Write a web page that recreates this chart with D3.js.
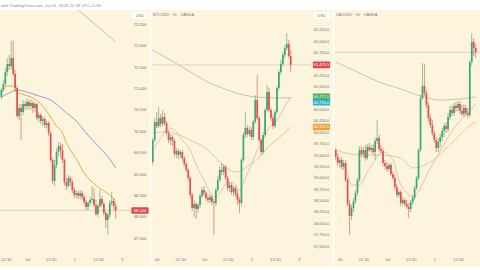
<!DOCTYPE html>
<html><head><meta charset="utf-8">
<script src="https://cdn.jsdelivr.net/npm/d3@7"></script>
<style>
html,body{margin:0;padding:0;background:#fff;}
svg{display:block;font-family:"Liberation Sans",Arial,sans-serif;}
</style></head><body>
<svg id="c" width="480" height="270"></svg>
<script>
// ---------- DATA ----------
const headerText = "with TradingView.com, Jul 01, 2026 21:33 UTC+5:30";
const titles = ["", "BTCUSD · 1h · OANDA", "XAUUSD · 1h · OANDA"];
const timeTickHours = [-24, -12, 0, 12, 24, 36, 48];
const timeTickLabels = ["30", "12:30", "Jul", "12:30", "2", "12:30", "3"];

// Panel 1 (hourly candles, first candle hour offset from Jul 1 00:00)
const p1Start = -13;
const p1Open  = [70794,70958,71098,71378,71565,71519,71706,71332,71005,70350,70537,70444,70631,70584,70678,70584,70654,70537,70631,70304,70374,70234,70280,70140,70187,69953,69322,68832,69206,69509,69650,69556,69322,68808,68715,68902,68808,68622,68505,68551,68481,68551,68458,68341,68224,68318,68388,68411,68271,68061,68248,68411,68295,68084,67921,68037,68318,68365,68248];
const p1High  = [71005,71192,71472,71706,71776,72103,72126,71425,71051,70631,70631,70724,70701,70771,70724,70748,70701,70678,70654,70444,70421,70350,70327,70234,70234,70000,69369,69322,69603,69743,69720,69696,69369,68902,68972,68949,68855,68692,68622,68598,68622,68598,68505,68388,68365,68458,68715,68668,68388,68295,68622,68481,68341,68131,68084,68388,68575,68435,68318];
const p1Low   = [70748,70911,71051,71285,71425,71425,71285,70911,70304,70257,69790,70374,70491,70491,70514,70491,70421,70444,70257,70210,70164,70117,70070,70047,69883,69276,68762,68715,69136,69416,69369,69252,68738,68622,68668,68715,68551,68435,68435,68411,68411,68388,68271,68154,68154,68248,68318,68224,68014,67991,68201,68224,68037,67734,67570,67967,68248,68154,67944];
const p1Close = [70958,71098,71378,71565,71519,71706,71332,71005,70350,70537,70444,70631,70584,70678,70584,70654,70537,70631,70304,70374,70234,70280,70140,70187,69953,69322,68832,69206,69509,69650,69556,69322,68808,68715,68902,68808,68622,68505,68551,68481,68551,68458,68341,68224,68318,68388,68411,68271,68061,68248,68411,68295,68084,67921,68037,68318,68365,68248,68144];
const p1MaFastHours = [-13,-10,-7,-5,-1,3,8,12,15,18,20,23,26,28,32,36,39,42,45];
const p1MaFast      = [70911,71051,71051,70911,70841,70771,70584,70327,70117,69953,69720,69486,69276,69089,68855,68692,68598,68505,68365];
const p1MaSlowHours = [-13,-9,-5,0,6,12,20,24,30,37,42,45];
const p1MaSlow      = [70794,70888,70958,70911,70818,70724,70421,70280,69953,69603,69346,69136];
const p1MaLongHours = [14,26,35,45];
const p1MaLong      = [73294,72827,72477,72079];
const p1Ticks = [72500,72000,71500,71000,70500,70000,69500,69000,68500,68000,67500];
const p1Last = 68144;

// Panel 2
const p2Start = -26;
const p2Open  = [59341,59824,60220,60132,60308,60176,60330,60198,59978,59824,59890,59802,59516,59582,59495,59560,59429,59297,59165,58989,58615,58330,58418,58308,58396,58593,58725,58659,58549,58505,58571,58462,58440,58725,58945,59165,59121,59231,58989,58769,58835,58681,58769,58637,58505,58440,59385,59934,60088,59956,60044,59890,60220,60703,60308,59824,59560,59934,60483,60879,60483,60308,60132,60440,60967,61319,61495,61692,61846,61934,61670];
const p2High  = [59868,60308,60440,60549,60396,60483,60418,60242,60044,59956,59934,59846,59648,59626,59604,59604,59473,59341,59209,59033,58659,58505,58462,58440,58637,58791,58813,58703,58615,58637,58615,58527,58769,59033,59253,59319,59297,59275,59033,58901,58879,58813,58813,58725,58571,59429,60000,60440,60154,60132,60110,60264,60813,61253,60352,59868,60000,60527,61033,60967,60527,60374,60483,61011,61363,61582,61758,61912,62176,62022,61802];
const p2Low   = [59275,59780,60088,60088,60110,60132,60132,59934,59758,59714,59692,59451,59429,59407,59429,59363,59231,59121,58923,58549,58264,58132,58088,58220,58330,58549,58593,58484,58440,58440,58396,57736,58374,58681,58901,59055,59055,58945,58703,58681,58615,58593,58571,58396,58220,58374,59341,59868,59890,59912,59824,59824,60176,60264,59780,59495,59516,59890,60440,60440,60242,60066,60088,60396,60923,61253,61451,61626,61802,61626,61319];
const p2Close = [59824,60220,60132,60308,60176,60330,60198,59978,59824,59890,59802,59516,59582,59495,59560,59429,59297,59165,58989,58615,58330,58418,58308,58396,58593,58725,58659,58549,58505,58571,58462,58440,58725,58945,59165,59121,59231,58989,58769,58835,58681,58769,58637,58505,58440,59385,59934,60088,59956,60044,59890,60220,60703,60308,59824,59560,59934,60483,60879,60483,60308,60132,60440,60967,61319,61495,61692,61846,61934,61670,61475.5];
const p2Ma20Hours = [-26,-22,-18,-15,-11,-7,-4,0,3,6,9,12,15,18,21,24,27,30,33,37,40,44];
const p2Ma20      = [59604,59868,60088,60044,59824,59604,59275,58945,58681,58571,58725,58901,58879,58725,58989,59275,59604,59824,60088,60264,60483,60771.5];
const p2Ma50Hours = [-26,-22,-16,-7,2,8,16,23,28,32,38,44];
const p2Ma50      = [59978,60000,59978,59824,59604,59341,59121,59275,59429,59648,59868,60111.5];
const p2LongHours = [-26,-17,-7,3,12,18,27,36,44];
const p2Long      = [61802,61582,61319,61077,60923,60835,60769,60750,60750];
const p2Ticks = [62250,62000,61750,61250,61000,60500,60250,60000,59750,59500,59250,59000,58750,58500,58250,58000,57750,57500];

// Panel 3
const p3Start = -26;
const p3Open  = [2328,2326.25,2324.75,2325.5,2323.75,2324.75,2320.5,2314.5,2311.5,2313.5,2315.25,2317.25,2320.5,2328,2327,2328,2326,2328.75,2328,2328.5,2327.5,2330.25,2331,2328.25,2327.75,2324.75,2324,2323.25,2324.25,2322,2321,2318.75,2316.75,2317.5,2314.75,2315.5,2314.5,2313.75,2313.25,2315,2316,2318.5,2321,2328,2341,2344,2342.25,2339.25,2336,2334.25,2332.25,2330.5,2328.5,2330,2331.25,2332.75,2334,2333.25,2336.25,2338,2337.25,2339,2338.5,2339.5,2337.75,2337,2338.5,2337.25,2336.75,2350,2355,2353.5];
const p3High  = [2328.5,2327.25,2326,2326.25,2325.5,2325.5,2321,2315.5,2314.25,2316,2318,2321,2329,2329,2328.75,2329.25,2329.5,2329.75,2329.25,2329.5,2331,2335.5,2331.75,2329.25,2328.5,2325.5,2325,2324.75,2324.75,2322.75,2321.75,2319.5,2318,2318,2316.25,2316,2315.5,2314.75,2315.5,2316.75,2319,2321.5,2328.5,2341.75,2349.75,2349.5,2343,2340,2337,2335.5,2333,2331.25,2331,2332,2333.5,2334.75,2335,2337.25,2339,2339.25,2339.75,2340,2340.25,2340.25,2339.25,2339.5,2339.25,2338.5,2350.5,2357.25,2356,2354.5];
const p3Low   = [2325.5,2324,2323.5,2323,2323,2320,2314,2306.75,2310.5,2312.5,2314.5,2316.5,2320,2326.25,2326,2325.25,2325.5,2327.5,2327.25,2326.75,2325.5,2329.5,2327.5,2327.25,2324,2323,2322.5,2322.75,2321.5,2320.5,2318,2316.25,2316,2314,2314,2314,2313.25,2311,2312.5,2314.25,2315.5,2318,2320.5,2327.5,2340.5,2341.5,2338.5,2335,2333.5,2331.5,2329.75,2327.5,2327.5,2328.75,2330.25,2331.25,2332.25,2332.5,2335.5,2336.5,2336.5,2337.5,2337.75,2337,2336.5,2336.25,2336.5,2336,2336.25,2349,2351.5,2351];
const p3Close = [2326.25,2324.75,2325.5,2323.75,2324.75,2320.5,2314.5,2311.5,2313.5,2315.25,2317.25,2320.5,2328,2327,2328,2326,2328.75,2328,2328.5,2327.5,2330.25,2331,2328.25,2327.75,2324.75,2324,2323.25,2324.25,2322,2321,2318.75,2316.75,2317.5,2314.75,2315.5,2314.5,2313.75,2313.25,2315,2316,2318.5,2321,2328,2341,2344,2342.25,2339.25,2336,2334.25,2332.25,2330.5,2328.5,2330,2331.25,2332.75,2334,2333.25,2336.25,2338,2337.25,2339,2338.5,2339.5,2337.75,2337,2338.5,2337.25,2336.75,2350,2355,2353.5,2352.4];
const p3Ma20Hours = [-26,-21,-18,-14,-10,-6,-2,3,6,10,13,17,21,25,29,33,37,41,45];
const p3Ma20      = [2325.5,2323.5,2319.25,2319.25,2322.5,2325.5,2327.5,2325.5,2320.5,2317.25,2316.25,2318.5,2322.5,2326,2329.5,2332.75,2335.25,2337.25,2339.5];
const p3Ma50Hours = [-26,-14,-4,7,13,22,32,44,45];
const p3Ma50      = [2328,2326.75,2326.75,2326,2323.5,2325,2329.25,2334.75,2335];
const p3LongHours = [-26,-14,-4,7,17,27,37,45];
const p3Long      = [2350,2347.25,2345,2343.25,2341.5,2340.5,2340.75,2341.25];

// ---------- DRAW ----------
const svg = d3.select("#c");
const UP = "#3aa872", DOWN = "#e2504f", CREAM = "#fcf4dc";
svg.append("rect").attr("width",480).attr("height",270).attr("fill","#ffffff");
svg.append("rect").attr("x",0).attr("y",10).attr("width",480).attr("height",257).attr("fill",CREAM);
svg.append("text").attr("x",1).attr("y",6.8).attr("font-size",4.3).attr("fill","#8a8a8a").text(headerText);

const panels = [
  {id:1, x0:0, x1:131, right:150, xJul:27, yd:[72500,67500], yr:[24,238], start:p1Start,
   o:p1Open,h:p1High,l:p1Low,c:p1Close, axisX:140, ticks:p1Ticks, fmt:d3.format(",.0f"), last:p1Last, lastFmt:d3.format(",.0f"),
   lines:[{hs:p1MaLongHours, v:p1MaLong, color:"#b8a692", w:0.7},
          {hs:p1MaSlowHours, v:p1MaSlow, color:"#958cd6", w:0.9},
          {hs:p1MaFastHours, v:p1MaFast, color:"#e7a62a", w:0.9}],
   labels:[]},
  {id:2, x0:152, x1:311, right:333, xJul:204, yd:[62000,58000], yr:[41,223], start:p2Start,
   o:p2Open,h:p2High,l:p2Low,c:p2Close, axisX:321.5, ticks:p2Ticks, fmt:d3.format(",.1f"), last:61475.5, lastFmt:d3.format(",.1f"),
   lines:[{hs:p2LongHours, v:p2Long, color:"#bcaa94", w:0.7},
          {hs:p2Ma50Hours, v:p2Ma50, color:"#d6b48c", w:0.7},
          {hs:p2Ma20Hours, v:p2Ma20, color:"#e0a79e", w:0.7}],
   labels:[{v:60771.5, fill:"#4caf50", dy:0},{v:60750, fill:"#2bb3c6", dy:4.2},{v:60111.5, fill:"#f0a13a", dy:0}]},
  {id:3, x0:335, x1:480, right:480, xJul:387, yd:[2360,2300], yr:[22,262], start:p3Start,
   o:p3Open,h:p3High,l:p3Low,c:p3Close, axisX:null, ticks:[], fmt:null, last:2352.4,
   lines:[{hs:p3LongHours, v:p3Long, color:"#bcaa94", w:0.7},
          {hs:p3Ma50Hours, v:p3Ma50, color:"#d6b48c", w:0.7},
          {hs:p3Ma20Hours, v:p3Ma20, color:"#e0a79e", w:0.7}],
   labels:[]}
];

panels.forEach((P, pi) => {
  const x = d3.scaleLinear().domain([0,24]).range([P.xJul, P.xJul + 47.3]);
  const y = d3.scaleLinear().domain(P.yd).range(P.yr);
  const clipId = "clip" + P.id;
  svg.append("clipPath").attr("id", clipId).append("rect")
     .attr("x", P.x0).attr("y", 10).attr("width", P.x1 - P.x0).attr("height", 242);
  const g = svg.append("g").attr("clip-path", `url(#${clipId})`);

  // last price line
  g.append("line").attr("x1",P.x0).attr("x2",P.x1)
    .attr("y1",y(P.last)).attr("y2",y(P.last))
    .attr("stroke","#dfbfb2").attr("stroke-width",0.7);

  // moving averages
  P.lines.forEach(L => {
    const pts = L.hs.map((hh,i)=>[hh, L.v[i]]);
    g.append("path").datum(pts)
      .attr("d", d3.line().x(d=>x(d[0])).y(d=>y(d[1])).curve(d3.curveMonotoneX))
      .attr("fill","none").attr("stroke",L.color).attr("stroke-width",L.w);
  });

  // candles
  const data = P.o.map((ov,i)=>({t:P.start+i, o:ov, h:P.h[i], l:P.l[i], c:P.c[i]}));
  const cg = g.append("g");
  cg.selectAll("line.w").data(data).join("line")
    .attr("x1",d=>x(d.t)).attr("x2",d=>x(d.t))
    .attr("y1",d=>y(d.h)).attr("y2",d=>y(d.l))
    .attr("stroke",d=>d.c>=d.o?UP:DOWN).attr("stroke-width",0.6);
  cg.selectAll("rect.b").data(data).join("rect")
    .attr("x",d=>x(d.t)-0.85).attr("width",1.7)
    .attr("y",d=>y(Math.max(d.o,d.c)))
    .attr("height",d=>Math.max(0.8, Math.abs(y(d.o)-y(d.c))))
    .attr("fill",d=>d.c>=d.o?UP:DOWN);

  // time axis labels
  const ticksIn = timeTickHours.filter(hh => x(hh) > P.x0 - 6 && x(hh) < P.right - 2);
  const xa = d3.axisBottom(x).tickValues(ticksIn)
     .tickFormat(hh => timeTickLabels[timeTickHours.indexOf(hh)]).tickSize(0).tickPadding(0);
  const xg = svg.append("g").attr("transform","translate(0,258)").call(xa);
  xg.select(".domain").remove();
  xg.selectAll("text").attr("font-size",4.3).attr("fill","#7a7a7a").attr("font-family","Liberation Sans, Arial, sans-serif")
    .each(function(hh){
      // keep labels near the left edge fully visible
      if (x(hh) < 6) d3.select(this).attr("text-anchor","start").attr("x", 0.5 - x(hh));
    });

  // title
  if (titles[pi]) {
    svg.append("text").attr("x",P.x0+1).attr("y",15.5).attr("font-size",3.9).attr("fill","#7d7d7d").text(titles[pi]);
  }

  // price axis
  if (P.axisX !== null) {
    svg.append("rect").attr("x",P.axisX-8).attr("y",12).attr("width",16).attr("height",7).attr("rx",1)
      .attr("fill","#ffffff");
    svg.append("text").attr("x",P.axisX).attr("y",17).attr("text-anchor","middle")
      .attr("font-size",4).attr("fill","#777").text("USD");
    const ya = d3.axisRight(y).tickValues(P.ticks).tickFormat(P.fmt).tickSize(0).tickPadding(0);
    const yg = svg.append("g").attr("transform",`translate(${P.axisX},0)`).call(ya);
    yg.select(".domain").remove();
    yg.selectAll("text").attr("text-anchor","middle").attr("x",0)
      .attr("font-size",4).attr("fill","#6f6f6f").attr("font-family","Liberation Sans, Arial, sans-serif");

    const tag = (v, fill, dy) => {
      const yy = y(v) + dy;
      svg.append("rect").attr("x",P.axisX-8.6).attr("y",yy-3.3).attr("width",17.2).attr("height",6.6)
        .attr("rx",0.8).attr("fill",fill);
      svg.append("text").attr("x",P.axisX).attr("y",yy+1.5).attr("text-anchor","middle")
        .attr("font-size",4).attr("fill","#ffffff").text(P.lastFmt(v));
    };
    P.labels.forEach(lb => tag(lb.v, lb.fill, lb.dy));
    tag(P.last, "#e0474c", 0);
  }
});

// panel separators
[150.5, 333.5].forEach(sx => {
  svg.append("line").attr("x1",sx).attr("x2",sx).attr("y1",10).attr("y2",267)
    .attr("stroke","#ffffff").attr("stroke-width",1.4);
});
</script>
</body></html>
